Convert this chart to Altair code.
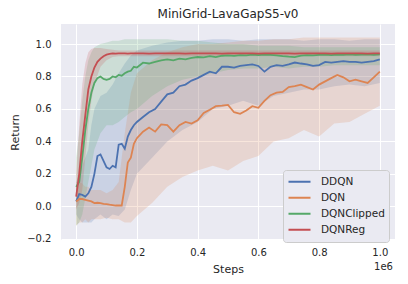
import altair as alt
import pandas as pd

# ---------------- data (steps in millions) ----------------
X = [0.00, 0.01, 0.02, 0.03, 0.04, 0.05, 0.06, 0.07, 0.08, 0.09, 0.10,
     0.11, 0.12, 0.13, 0.14, 0.15, 0.16, 0.17, 0.18, 0.19, 0.20,
     0.22, 0.24, 0.26, 0.28, 0.30, 0.32, 0.34, 0.36, 0.38, 0.40,
     0.42, 0.44, 0.46, 0.48, 0.50, 0.52, 0.54, 0.56, 0.58, 0.60,
     0.62, 0.64, 0.66, 0.68, 0.70, 0.72, 0.74, 0.76, 0.78, 0.80,
     0.82, 0.84, 0.86, 0.88, 0.90, 0.92, 0.94, 0.96, 0.98, 1.00]

ddqn = [0.03, 0.075, 0.07, 0.06, 0.08, 0.12, 0.20, 0.31, 0.32, 0.28, 0.24,
        0.23, 0.25, 0.24, 0.38, 0.385, 0.355, 0.43, 0.47, 0.50, 0.52,
        0.55, 0.58, 0.60, 0.645, 0.69, 0.70, 0.74, 0.75, 0.775, 0.79,
        0.81, 0.83, 0.82, 0.86, 0.86, 0.855, 0.865, 0.87, 0.875, 0.865,
        0.83, 0.86, 0.87, 0.865, 0.875, 0.886, 0.88, 0.875, 0.865, 0.87,
        0.89, 0.885, 0.89, 0.895, 0.89, 0.89, 0.885, 0.89, 0.895, 0.905]

dqn = [0.03, 0.045, 0.045, 0.04, 0.035, 0.03, 0.02, 0.022, 0.02, 0.015, 0.013,
       0.01, 0.008, 0.005, 0.006, 0.005, 0.12, 0.27, 0.30, 0.385, 0.42,
       0.46, 0.485, 0.46, 0.505, 0.50, 0.46, 0.50, 0.52, 0.51, 0.53,
       0.575, 0.595, 0.617, 0.62, 0.625, 0.58, 0.57, 0.59, 0.617, 0.607,
       0.65, 0.685, 0.70, 0.705, 0.735, 0.74, 0.75, 0.735, 0.72, 0.75,
       0.77, 0.79, 0.81, 0.795, 0.77, 0.78, 0.77, 0.76, 0.795, 0.83]

clipped = [0.12, 0.15, 0.30, 0.47, 0.60, 0.70, 0.76, 0.79, 0.80, 0.785, 0.78,
           0.785, 0.80, 0.795, 0.81, 0.805, 0.82, 0.83, 0.835, 0.86, 0.855,
           0.885, 0.88, 0.89, 0.90, 0.905, 0.90, 0.91, 0.905, 0.915, 0.92,
           0.918, 0.925, 0.92, 0.928, 0.93, 0.927, 0.932, 0.93, 0.935, 0.932,
           0.935, 0.933, 0.93, 0.925, 0.922, 0.92, 0.928, 0.932, 0.93, 0.933,
           0.935, 0.932, 0.935, 0.934, 0.936, 0.933, 0.935, 0.936, 0.934, 0.936]

reg = [0.06, 0.20, 0.40, 0.56, 0.72, 0.80, 0.855, 0.89, 0.91, 0.925, 0.935,
       0.94, 0.942, 0.941, 0.942, 0.943, 0.942, 0.941, 0.942, 0.942, 0.943,
       0.942, 0.941, 0.942, 0.942, 0.943, 0.942, 0.942, 0.941, 0.942, 0.942,
       0.943, 0.942, 0.942, 0.941, 0.942, 0.942, 0.943, 0.942, 0.942, 0.941,
       0.942, 0.942, 0.943, 0.942, 0.942, 0.941, 0.942, 0.942, 0.942, 0.943,
       0.942, 0.941, 0.942, 0.942, 0.943, 0.942, 0.942, 0.941, 0.942, 0.942]

XB = [0.00, 0.01, 0.02, 0.03, 0.04, 0.05, 0.06, 0.08, 0.10, 0.12, 0.14,
      0.16, 0.18, 0.20, 0.25, 0.30, 0.35, 0.40, 0.45, 0.50, 0.55, 0.60,
      0.65, 0.70, 0.75, 0.80, 0.85, 0.90, 0.95, 1.00]

ddqn_lo = [-0.05, -0.08, -0.10, -0.10, -0.10, -0.10, -0.08, -0.05, -0.08, -0.05, -0.06,
           -0.02, 0.10, 0.20, 0.30, 0.40, 0.47, 0.52, 0.60, 0.62, 0.65, 0.62,
           0.68, 0.70, 0.72, 0.72, 0.74, 0.75, 0.74, 0.76]
ddqn_hi = [0.15, 0.20, 0.25, 0.30, 0.35, 0.50, 0.60, 0.68, 0.70, 0.75, 0.82,
           0.88, 0.93, 0.96, 0.99, 1.01, 1.02, 1.02, 1.03, 1.03, 1.02, 1.03,
           1.03, 1.03, 1.02, 1.03, 1.03, 1.02, 1.03, 1.03]

dqn_lo = [-0.12, -0.10, -0.10, -0.08, -0.10, -0.08, -0.08, -0.08, -0.07, -0.08, -0.08,
          -0.10, -0.10, -0.06, 0.02, 0.12, 0.18, 0.22, 0.25, 0.22, 0.28, 0.31,
          0.40, 0.42, 0.47, 0.43, 0.51, 0.52, 0.57, 0.62]
dqn_hi = [0.15, 0.15, 0.14, 0.12, 0.12, 0.10, 0.10, 0.10, 0.08, 0.10, 0.15,
          0.45, 0.70, 0.82, 0.90, 0.95, 0.98, 1.00, 1.00, 1.01, 1.02, 1.02,
          1.03, 1.03, 1.04, 1.04, 1.04, 1.04, 1.04, 1.04]

clipped_lo = [-0.12, -0.10, -0.05, 0.05, 0.15, 0.25, 0.35, 0.45, 0.50, 0.50, 0.52,
              0.55, 0.58, 0.60, 0.68, 0.74, 0.78, 0.80, 0.82, 0.84, 0.85, 0.85,
              0.86, 0.85, 0.86, 0.86, 0.87, 0.87, 0.87, 0.87]
clipped_hi = [0.30, 0.45, 0.65, 0.80, 0.90, 0.95, 0.98, 1.00, 1.01, 1.02, 1.02,
              1.03, 1.03, 1.03, 1.03, 1.03, 1.02, 1.02, 1.01, 1.00, 1.00, 0.99,
              0.99, 0.99, 0.98, 0.98, 0.98, 0.98, 0.98, 0.98]

reg_lo = [-0.02, 0.02, 0.10, 0.30, 0.50, 0.65, 0.75, 0.86, 0.90, 0.92, 0.925,
          0.925, 0.925, 0.925, 0.925, 0.925, 0.925, 0.925, 0.925, 0.925, 0.925, 0.925,
          0.925, 0.925, 0.925, 0.925, 0.925, 0.925, 0.925, 0.925]
reg_hi = [0.20, 0.50, 0.75, 0.88, 0.95, 0.97, 0.975, 0.975, 0.97, 0.965, 0.96,
          0.96, 0.96, 0.96, 0.96, 0.96, 0.96, 0.96, 0.96, 0.96, 0.96, 0.96,
          0.96, 0.96, 0.96, 0.96, 0.96, 0.96, 0.96, 0.96]

names = ["DDQN", "DQN", "DQNClipped", "DQNReg"]
colors = ["#4C72B0", "#DD8452", "#55A868", "#C44E52"]
means = [ddqn, dqn, clipped, reg]
lows = [ddqn_lo, dqn_lo, clipped_lo, reg_lo]
highs = [ddqn_hi, dqn_hi, clipped_hi, reg_hi]

line_rows = []
for n, m in zip(names, means):
    for x, y in zip(X, m):
        line_rows.append({"step": x, "ret": y, "algo": n})
band_rows = []
for n, c, lo, hi in zip(names, colors, lows, highs):
    for x, a, b in zip(XB, lo, hi):
        band_rows.append({"step": x, "lo": a, "hi": b, "algo": n, "col": c})

lines_df = pd.DataFrame(line_rows)
bands_df = pd.DataFrame(band_rows)

FONT = "DejaVu Sans"
TXT = "#262626"

xscale = alt.Scale(domain=[-0.05, 1.05], nice=False, zero=False)
yscale = alt.Scale(domain=[-0.2075, 1.1235], nice=False, zero=False)


def xaxis():
    return alt.Axis(values=[0, 0.2, 0.4, 0.6, 0.8, 1.0], format=".1f", title="Steps",
                    ticks=False, domain=False, labelPadding=7, titlePadding=6,
                    labelOverlap=False)


def yaxis():
    return alt.Axis(values=[-0.2, 0, 0.2, 0.4, 0.6, 0.8, 1.0], format=".1f", title="Return",
                    ticks=False, domain=False, labelPadding=10, titlePadding=6,
                    labelOverlap=False)


bands = alt.Chart(bands_df).mark_area(fillOpacity=0.2, strokeWidth=0).encode(
    x=alt.X("step:Q", scale=xscale, axis=xaxis()),
    y=alt.Y("lo:Q", scale=yscale, axis=yaxis()),
    y2="hi:Q",
    fill=alt.Fill("col:N", scale=None),
    detail="algo:N",
)

lines = alt.Chart(lines_df).mark_line(strokeWidth=1.8).encode(
    x=alt.X("step:Q", scale=xscale, axis=xaxis()),
    y=alt.Y("ret:Q", scale=yscale, axis=yaxis()),
    color=alt.Color("algo:N", scale=alt.Scale(domain=names, range=colors),
                    legend=alt.Legend(title=None, orient="none", legendX=222, legendY=146,
                                      symbolType="stroke", symbolSize=484,
                                      symbolStrokeWidth=2.2, clipHeight=15.5,
                                      labelFontSize=10.5, labelFont=FONT, labelColor=TXT,
                                      labelOffset=9, padding=4, rowPadding=0,
                                      fillColor="#EAEAF2", strokeColor="#CCCCCC",
                                      cornerRadius=3)),
)

offset_txt = alt.Chart(pd.DataFrame({"t": ["1e6"]})).mark_text(
    align="right", baseline="middle", fontSize=10, font=FONT, color=TXT
).encode(text="t:N", x=alt.value(332), y=alt.value(243))

chart = alt.layer(bands, lines, offset_txt).properties(
    width=334, height=216,
    title=alt.Title("MiniGrid-LavaGapS5-v0", fontSize=12, font=FONT, color=TXT,
                    fontWeight="normal", offset=3),
    autosize=alt.AutoSizeParams(type="none"),
    padding={"left": 53, "top": 16, "right": 5, "bottom": 40},
).configure_view(fill="#EAEAF2", stroke=None).configure_axis(
    gridColor="white", gridWidth=1, labelFont=FONT, labelFontSize=10, labelColor=TXT,
    titleFont=FONT, titleFontSize=11, titleColor=TXT, titleFontWeight="normal"
)

chart.save("out.html", embed_options={"renderer": "svg", "actions": False})
